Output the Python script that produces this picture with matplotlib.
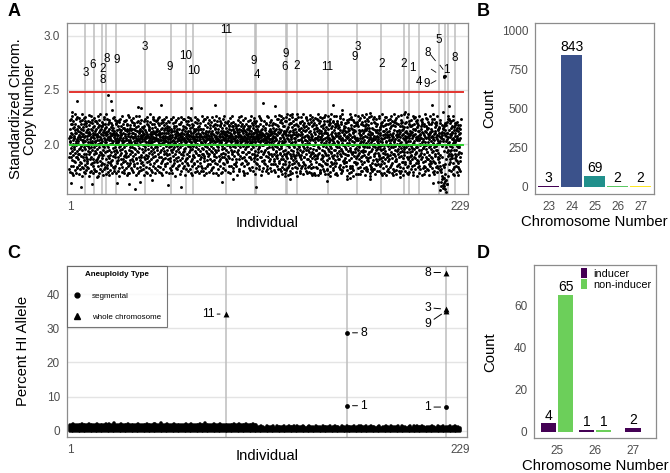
import numpy as np
import matplotlib
matplotlib.use("Agg")
from matplotlib import pyplot as plt
from matplotlib.lines import Line2D
from matplotlib.patches import Patch

plt.rcParams['font.family'] = ['Liberation Sans', 'DejaVu Sans']

# ---- panel A: standardized chromosome copy number, 12 chromosomes per individual
# one character per chromosome, level index k -> 1.456 + 0.016 * k
LEVELS = "0123456789ABCDEFGHIJKLMNOPQRSTUVWXYZabcdefghijklmnopqrstuvwxyz"
CLOUD_ROWS = [
    "RbKgTmZdIaWj fLcQnHXeUkPo MhYaSlGiVcOb dWkNfJpTgRaX IeZmLbQhUoKc jSaPgYdMnHiV",
    "TcOlWfJb9kRe hNXaGmUdpLiQ bKgZeSjIcPnW oHdVaMlRfTkJ YiLcQgNbOmXe aUhKpSdWjGfZ",
    "lPbTeIoJcXhM RgNkVaYmdQiL fHcSjWbOnKeU mZaIgPlTdJhX QkeNbVcRoGiY dLfWmHaSjUgO",
    "KpcYhMiTbZeN jIaRlQdVfkXG SgoJcWmNhbLe aTkPiZdHfqMU nXbKeRjOcgIW hQlaVmGdYfSJ",
    "cNiTbkOxMegH ZjPdaLhWnfRK gUcIoeSbmXdQ MkaYfHjVlcNT eOgZbPiRdJmW lKhaGcUfXnSb",
    "QdeMjTgIoLaY bVkNfhZcPmRH iJaWdOlegSUK cXmQbTfjYhGN kRdaIpLegVMZ fHoSbcWjNiPU",
    "aYgKdmTheQlJ XcnOfRbIkWaL hMjVe8SdgZoP bQiGcUflNaYK mTdHjbXgeRoI WaLkcPfhZdSN",
    "eJmQgbVicOaT YhKdfMlRbeGX jPcUaWgnIdLZ SbfNkeHoQmcV aRjXdTgiKbhO lMeYcGpfWaUJ",
    "dPbZkSheIncQ gVoLaNjcTfmH XeRbiKdYlgOa cWhUmJfPbekS MnaQgIdZjoLc fTeXbHkVaRhN",
    "iOcYmGelPdWb KajSfUgnZcQh bMdLoIeXkaTg VhcRjNfbPmYe aHlWdgSiKcOZ eQbUnJmfXhaL",
    "gTcdIkRoMbYV jNafPhWecGlS ZbmKdQigUaXe hOfJcnLbVRdT kaYgeMjHdPcW bSlIfZaoNcQe",
    "dXgRhKmbTjaU cLeVnOfiGbWY mPaJdhZkSceN fQbIgXloMdaR eTjcKhUbWgnH aZdOfmLiPYcV",
    "kGbeSjRdXahN gMcQlIfUZobK dWhaTekJcnOY bLmRfVgiHdSa jXcPeNkbUhZQ aIdgMoYfcTWK",
    "hSbeJlVdQaRG nOcZfKmjXbeU gHdaPiWcLoTY eRbkNfSgIdmV cZjaQhMbXleJ fUdKgOnaTcWH",
    "bYeiLmRjdPaS kNcgVhZbfIoQ dTaeXjMclKbW hGfUbnRdYaOi mLcPejSgZbkH aVdQfIhXcnTN",
    "gKboWeMjaRdY cJfSlhUdPbeZ eOaNgkXcImfT bRdiYjLhQacW fHncVbZegMkS dPaTjoKcXhlI",
    "jUbeNfRgWdaM cYkhQaLdiOfZ aGgTbmSejVcX hIdnKfPbYlaR eWcMjgZdoUbN kQafXhTceJmH",
    "bLdiRgVanPcY gSeOkbWfdIhZ cMaTjlNeXdgQ fKbhUcYaiRmJ dVeZgoPbkLaS aXcIfjWdhTnO",
    "mQbeHgRcZakU jNdlYfKbcSeM hPaVgbTdiXoL cWeJkfZanRdG bUgQmcIhdYeO fSaKjbXelPdN",
    "eTdhVgMcaZkI kRbYfoJdcWaL dHcnUeQgbXjS aOfPlbKhdTmZ gMeIcjWaRfbV cYdkNhSgeQaJ",
    "PgIoXcMkTeRa hUbLnWdQjSfY KmGiZaOhVpNe cSfJlTbXgQmI WoLdHkYaReUn jPcMgZiKbTfO",
    "NlVeIaRoSgJd mXhKcTpQbUiG YdLjOfWaMnHk eIpSgQkZcVbR aMiHoKdUlPfX TgNbYjReWcLm",
    "hQaZkOmIfSdV LpGcUjXeNbTi oWgRhMaYkJlQ IdVnSbPfKiZc mTeLaXgOpHjU RcWkNiQdYbMf",
    "bKgUoSiJnXaH eYmPdLhVcQkT ZfIjMbRgOnWa pHlSeKcNiUbG dQoXmVaTjLfR YkHgIeZbPcSn",
    "VjObLhUnQcKf iRdGmSpYaXgM NeTkWlHbJoIc gZcPfMiQdVnL SaKhXjObRmUe oIkYcNgTfHpW",
    "fMaRiYeNlPcJ KdSgHoVbZmQj cUjLnIkXaGeT WhOpTbMfRdYi mJlKaQcVgSoN ZbPeHiUkLjXd",
    "IoNcTkWaGmRh dZjPfYbLeXiU QgMoKnSdHlVa kRbIcJpUfZgO YmTaLhXeNjPd bQiWgSkOcMfV",
    "OkGbSmYdJiUf lXcRnHaPgZeK VpWdMbTjQoIh nLaKhScYfGmX UeJiOgRlZdVb gTpNcQkHaWjM",
    "cRlXbNjVaHoK SiTeYgPmWcLd HnZfJdQaUkOb pMgIlRcXeVjT aKoNbWfSiYhG mUdQkJpZgLcI",
    "XhPmKaSjOeQl iYbTgWnMcRfH GdUkLoJbZiNa fVeIcXmPaKhS oRlJdYgTbNkW HcMiQfUnVaOg",
    "kIdWfTcNbZgP JnRoSaLiXhVe eMjUcHkQpYbG aOlKgVdTiRmX WbNfIeSjPoUc hLaZkGnYcJdQ",
    "TfKjXdOmRbIa gPcVnLhSkZeW YiMaUoHbQdNl eGjSfWcKpTgI lZaOmRiXbVkJ PnHdQcLgUeYf",
    "dSkVbMoXgJeQ NaLiZcTfHpWk aRmIjUdYgOlK cGhNeQpSbXiV UkOaJfMdWlZb gYcTiHnReLaP",
    "MpHcYlQeVkIb jTaOgNdXiSmR KeUbWjPfLhGo ZdIcRnVaYkMg hQoJeSlTbUcN XaGkPiWmOdLf",
    "cNjLgRaVoIeX SdYbKmUhPcTi lGfQnZjObWaK WeHiMdSkXgLp aIcOjVbRnYfT QmKgUhPeJlZc",
    "iWbMkGdSfYoL PeXjRcNhVaQm gKlTdIpUbZcO JaOmHeWiSgNk fRcUlXkLjMbY VoIdTgQaPhKe",
    "OhQcZiLmJaSk 8bIeACcKfGEd RjXgBhEbM9aU CeLiFAdNkDHg kWdP7jDaBlBe fTbYnRoGcVmS",
    "aJgMnUcXkOeP TlRdVhIbWfQi SfHoKmYcNaLg bGiUdZeQjTkR MkVaPgOlXcIh dNjSbWfLhYeT",
    "XaKeRjIhOcTm",
]
# small per-chromosome bias added to every individual's value (chromosomes 1-12)
CHROM_SHIFT = [-0.008, 0.004, -0.002, 0.007, -0.006, 0.001, 0.006, -0.004, 0.003,
               -0.007, 0.0, 0.005]

# isolated points above / below the main cloud (individual, value)
A_OUT_IND = [4.9, 23.4, 54.0, 85.8, 40.8, 71.6, 25.4, 2.3, 42.7, 114.0, 154.9, 212.5,
             222.6, 219.3, 159.8, 196.8, 176.4, 130.6, 120.8, 65.7, 35.5, 1.4, 14.0,
             28.7, 41.7, 58.3, 90.0, 96.5, 110.0, 102.7, 17.0, 49.0, 129.6, 151.0,
             162.8, 176.4, 193.9, 213.3, 220.2, 216.3, 228.0, 126.7, 144.2, 164.7,
             219.8, 220.3, 219.5]
A_OUT_VAL = [2.396, 2.449, 2.359, 2.359, 2.344, 2.335, 2.319, 2.294, 2.33, 2.38, 2.365,
             2.365, 2.356, 2.30, 2.319, 2.30, 2.288, 2.28, 2.35, 1.60, 1.628, 1.643, 1.63,
             1.643, 1.652, 1.62, 1.65, 1.674, 1.60, 1.715, 1.693, 1.668, 1.674, 1.662,
             1.674, 1.674, 1.693, 1.637, 1.59, 1.652, 1.715, 1.705, 1.715, 1.684,
             2.632, 2.625, 2.615]

# individuals carrying an aneuploidy
A_VLINES = [10, 15, 20, 22, 28, 45, 60, 69, 73, 92, 109, 110, 127, 128, 134, 152, 169,
            183, 196, 199, 205, 217, 220, 222, 226]
A_LABEL_IND = [10.2, 14.45, 20.3, 22.5, 20.3, 28.3, 44.7, 59.5, 68.8, 73.1, 92.2, 108.2,
               110.2, 127.1, 126.3, 133.5, 151.4, 169.4, 167.6, 183.0, 196.1, 201.1,
               216.6, 210.3, 220.8, 205.2, 209.5, 226.1]
A_LABEL_VAL = [2.653, 2.734, 2.693, 2.787, 2.590, 2.777, 2.895, 2.709, 2.811, 2.672,
               3.056, 2.765, 2.641, 2.828, 2.713, 2.718, 2.709, 2.895, 2.800, 2.740,
               2.740, 2.703, 2.963, 2.842, 2.684, 2.570, 2.554, 2.796]
A_LABEL_TXT = ['3', '6', '2', '8', '8', '9', '3', '9', '10', '10', '11', '9', '4', '9',
               '6', '2', '11', '3', '9', '2', '2', '1', '5', '8', '1', '4', '9', '8']
# repel segments (x0, y0, x1, y1)
A_SEGMENTS = [(212.1, 2.82, 214.6, 2.77), (212.3, 2.69, 214.9, 2.663),
              (212.1, 2.56, 214.9, 2.585), (217.3, 2.728, 219.1, 2.69)]
UPPER_CUTOFF = 2.48
MEAN_CN = 1.995

# ---- panel B: chromosome number counts
B_CHROM = ['23', '24', '25', '26', '27']
B_COUNT = [3, 843, 69, 2, 2]
B_COLORS = ['#440154', '#3B528B', '#21908C', '#5DC863', '#FDE725']

# ---- panel C: percent HI allele
# upper edge of the per-individual band, one digit per individual, unit 0.25 %
C_TOP = ("7786777867" "7867778767" "7868779777" "8677877677" "8777787768" "8779777867"
         "7877776787" "7867778779" "7777867787" "7677778778" "6778777867"
         "4454354445" "3544453454" "4535445434" "5443544354" "4453454435" "4354445345"
         "5445345443" "4534454354" "4453544345" "3545445434" "4454354453" "445345443")
C_VLINES = [92, 163, 221]
C_IND = [92, 163, 163, 221, 221, 221, 221]
C_PCT = [34.2, 28.7, 7.3, 46.4, 35.6, 35.1, 6.9]
C_WHOLE = [True, False, False, True, True, True, False]
C_CHROM = ['11', '8', '1', '8', '3', '9', '1']
C_OFFSET = [(-12.6, 0), (12, 0), (12, 0), (-13.2, 0), (-13.2, 1.2), (-13.2, -9), (-13.2, 0)]

# ---- panel D: inducer / non-inducer counts
D_CHROM = ['25', '26', '27']
D_INDUCER = [4, 1, 2]
D_NON_INDUCER = [65, 1, 0]

W, H = 670, 473
fig = plt.figure(figsize=(W / 100, H / 100), dpi=100)


def px_axes(left, top, right, bottom):
    return fig.add_axes([left / W, 1 - bottom / H, (right - left) / W, (bottom - top) / H])


def style(ax):
    for s in ax.spines.values():
        s.set_color('#8c8c8c')
        s.set_linewidth(0.9)
    ax.tick_params(length=0, pad=5, labelsize=8.5, labelcolor='#4d4d4d')
    ax.xaxis.label.set_size(10.7)
    ax.yaxis.label.set_size(10.7)
    ax.xaxis.label.set_va('center')
    ax.yaxis.label.set_va('center')


ax_a = px_axes(67, 22.7, 468, 194.3)
ax_b = px_axes(535, 22.7, 654.3, 194.3)
ax_c = px_axes(67, 265.7, 467, 436.7)
ax_d = px_axes(534.3, 265, 655.7, 438.3)

# ---------------- A
cloud = "".join(CLOUD_ROWS).replace(" ", "")
k = np.array([LEVELS.index(ch) for ch in cloud])
pos = np.arange(len(cloud))
cn = 1.456 + 0.016 * k + np.array(CHROM_SHIFT)[pos % 12]
x_cloud = pos // 12 + 0.5 + (pos % 12 + 0.5) / 12

ax_a.set_xlim(-0.75, 233.7)
ax_a.set_ylim(1.537, 3.12)
for yv in [2.0, 2.5, 3.0]:
    ax_a.axhline(yv, color='#e4e4e4', lw=1.0, zorder=0)
for xv in A_VLINES:
    ax_a.axvline(xv, color='#bdbdbd', lw=1.1, zorder=1)
ax_a.scatter(x_cloud, cn, s=4.5, c='black', linewidths=0, zorder=2)
ax_a.scatter(A_OUT_IND, A_OUT_VAL, s=4.5, c='black', linewidths=0, zorder=2)
ax_a.plot([1, 231], [UPPER_CUTOFF] * 2, color='#e3342f', lw=1.4, zorder=3)
ax_a.plot([1, 231], [MEAN_CN] * 2, color='#2ed02e', lw=1.4, zorder=3)
for xi, yi, t in zip(A_LABEL_IND, A_LABEL_VAL, A_LABEL_TXT):
    ax_a.text(xi, yi, t, ha='center', va='center', fontsize=8.4, zorder=4)
for x0, y0, x1, y1 in A_SEGMENTS:
    ax_a.plot([x0, x1], [y0, y1], color='black', lw=0.6, zorder=4)
ax_a.set_xticks([1, 229])
ax_a.set_xticklabels(['1', '229'])
ax_a.set_yticks([2.0, 2.5, 3.0])
ax_a.set_yticklabels(['2.0', '2.5', '3.0'])
style(ax_a)
ax_a.set_xlabel('Individual')
ax_a.set_ylabel('Standardized Chrom.\nCopy Number', linespacing=1.0)
ax_a.xaxis.set_label_coords(0.5, -0.1655)
ax_a.yaxis.set_label_coords(-0.109, 0.5)

# ---------------- B
xb = np.arange(len(B_CHROM))
ax_b.bar(xb, B_COUNT, width=0.9, color=B_COLORS)
for xi, v in zip(xb, B_COUNT):
    ax_b.annotate(str(v), (xi, v), xytext=(0, 0.5), textcoords='offset points',
                  ha='center', va='bottom', fontsize=10)
ax_b.set_xlim(-0.6, 4.6)
ax_b.set_ylim(-50, 1050)
ax_b.set_xticks(xb)
ax_b.set_xticklabels(B_CHROM)
ax_b.set_yticks([0, 250, 500, 750, 1000])
style(ax_b)
ax_b.set_xlabel('Chromosome Number')
ax_b.set_ylabel('Count')
ax_b.xaxis.set_label_coords(0.5, -0.1614)
ax_b.yaxis.set_label_coords(-0.387, 0.5)

# ---------------- C
ax_c.set_xlim(-0.75, 233.2)
ax_c.set_ylim(-1.8, 48.4)
for yv in [0, 10, 20, 30, 40]:
    ax_c.axhline(yv, color='#e4e4e4', lw=1.0, zorder=0)
for xv in C_VLINES:
    ax_c.axvline(xv, color='#bdbdbd', lw=1.1, zorder=1)
top = np.array([int(ch) for ch in C_TOP]) * 0.25
ind = np.arange(1, len(top) + 1)
ax_c.vlines(ind, 0, top, colors='black', lw=2.6, capstyle='round', zorder=2)
c_ind = np.array(C_IND)
c_pct = np.array(C_PCT)
whole = np.array(C_WHOLE)
ax_c.scatter(c_ind[~whole], c_pct[~whole], s=12, marker='o', c='black', lw=0, zorder=3)
ax_c.scatter(c_ind[whole], c_pct[whole], s=18, marker='^', c='black', lw=0, zorder=3)
for xi, yi, t, off in zip(C_IND, C_PCT, C_CHROM, C_OFFSET):
    ax_c.annotate(t, (xi, yi), xytext=off, textcoords='offset points',
                  ha='center', va='center', fontsize=8.7, zorder=4,
                  arrowprops=dict(arrowstyle='-', lw=0.7, color='black',
                                  shrinkA=0, shrinkB=4))
ax_c.set_xticks([1, 229])
ax_c.set_xticklabels(['1', '229'])
ax_c.set_yticks([0, 10, 20, 30, 40])
style(ax_c)
ax_c.set_xlabel('Individual')
ax_c.set_ylabel('Percent HI Allele')
ax_c.xaxis.set_label_coords(0.5, -0.1129)
ax_c.yaxis.set_label_coords(-0.109, 0.5)
handles = [Line2D([], [], marker='o', ls='', color='black', ms=3.5),
           Line2D([], [], marker='^', ls='', color='black', ms=4)]
leg = ax_c.legend(handles, ['segmental', 'whole chromosome'], loc='upper left',
                  bbox_to_anchor=(0, 1), borderaxespad=0, fontsize=5.8,
                  title='Aneuploidy Type',
                  title_fontproperties={'weight': 'bold', 'size': 5.8},
                  frameon=True, fancybox=False, edgecolor='#555555',
                  labelspacing=1.7, handlelength=1.0, handletextpad=1.4,
                  borderpad=0.7)
leg.get_frame().set_linewidth(0.8)

# ---------------- D
for i, (a, b) in enumerate(zip(D_INDUCER, D_NON_INDUCER)):
    if b:
        xa, xn = i - 0.225, i + 0.225
        ax_d.bar(xn, b, width=0.41, color='#6ccf5a')
        ax_d.annotate(str(b), (xn, b), xytext=(0, 0.5), textcoords='offset points',
                      ha='center', va='bottom', fontsize=10)
    else:
        xa = i
    ax_d.bar(xa, a, width=0.41, color='#440154')
    ax_d.annotate(str(a), (xa, a), xytext=(0, 0.5), textcoords='offset points',
                  ha='center', va='bottom', fontsize=10)
ax_d.set_xlim(-0.6, 2.6)
ax_d.set_ylim(-3.1, 79)
ax_d.set_xticks(range(len(D_CHROM)))
ax_d.set_xticklabels(D_CHROM)
ax_d.set_yticks([0, 20, 40, 60])
style(ax_d)
ax_d.set_xlabel('Chromosome Number')
ax_d.set_ylabel('Count')
ax_d.xaxis.set_label_coords(0.5, -0.16)
ax_d.yaxis.set_label_coords(-0.365, 0.5)
ax_d.legend([Patch(facecolor='#440154'), Patch(facecolor='#6ccf5a')],
            ['inducer', 'non-inducer'], loc='upper right', bbox_to_anchor=(1.03, 1.025),
            frameon=False, fontsize=7.8, handlelength=0.55, handleheight=1.0,
            handletextpad=0.6, labelspacing=0.05, borderaxespad=0.3)

# panel letters
for letter, (px, py) in zip('ABCD', [(14, 11), (483, 11), (14, 254), (483, 253)]):
    fig.text(px / W, 1 - py / H, letter, fontsize=13, fontweight='bold',
             ha='center', va='center')

fig.savefig('out.png', dpi=100)
